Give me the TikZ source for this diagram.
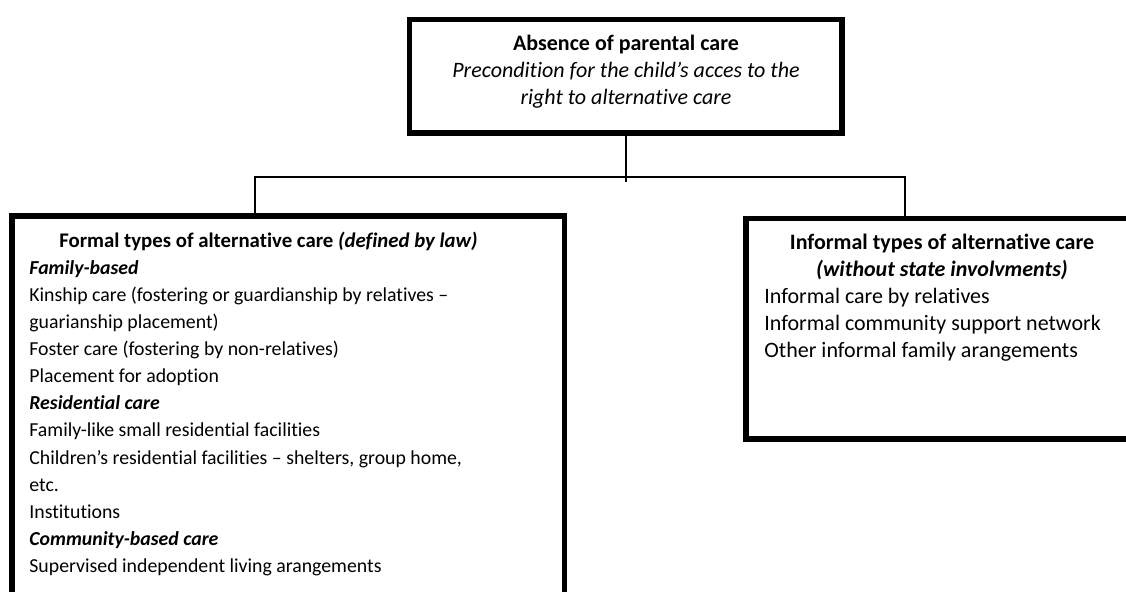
\documentclass[tikz,border=0pt]{standalone}
\usepackage{fontspec}
\setmainfont{Carlito}[Ligatures=CommonOff]
\usetikzlibrary{positioning}
\tikzset{
  careframe/.style={draw, line width=2.75pt, inner sep=0pt},
  caretext/.style={inner sep=0pt, font=\fontsize{11}{13.5}\selectfont},
  smalltext/.style={inner sep=0pt, font=\fontsize{9.9}{13.55}\selectfont},
  branch/.style={line width=0.8pt}
}
\begin{document}
\begin{tikzpicture}[x=0.5pt,y=-0.5pt]
\useasboundingbox (0,0) rectangle (1126,591);
\clip (0,0) rectangle (1126,591);
% boxes
\node[careframe, minimum width=216.25pt, minimum height=56.75pt] (absence) at (625.75,76.25) {};
\node[careframe, minimum width=276.25pt, minimum height=202pt] (formal) at (288.25,418) {};
\node[careframe, minimum width=202pt, minimum height=110.25pt] (informal) at (948,328.75) {};
% texts
\node[caretext, align=center, anchor=north] (absencetext) at (626,35) {\textbf{Absence of parental care}\\
  \textit{Precondition for the child’s acces to the}\\
  \textit{right to alternative care}};
\node[smalltext, font=\fontsize{10.4}{13.55}\selectfont, anchor=north] (formalhead) at (268.5,232) {\textbf{Formal types of alternative care \textit{(defined by law)}}};
\node[smalltext, align=left, anchor=north west] (formallist) at (29,260) {%
  \textbf{\textit{Family-based}}\\
  Kinship care (fostering or guardianship by relatives –\\
  guarianship placement)\\
  Foster care (fostering by non-relatives)\\
  Placement for adoption\\
  \textbf{\textit{Residential care}}\\
  Family-like small residential facilities\\
  Children’s residential facilities – shelters, group home,\\
  etc.\\
  Institutions\\
  \textbf{\textit{Community-based care}}\\
  Supervised independent living arangements};
\node[caretext, align=center, anchor=north] (informalhead) at (942,234) {\textbf{Informal types of alternative care}\\
  \textbf{\textit{(without state involvments)}}};
\node[caretext, align=left, anchor=north west] (informallist) at (764,288) {%
  Informal care by relatives\\
  Informal community support network\\
  Other informal family arangements};
% connectors
\coordinate (stem) at (626,182);
\coordinate (lfork) at (255,177);
\coordinate (rfork) at (905,177);
\draw[branch] ([yshift=3pt]absence.south) -- (absence.south |- stem);
\draw[branch] (formal.north -| lfork) -- (lfork) -- (rfork) -- (informal.north -| rfork);
\end{tikzpicture}
\end{document}
